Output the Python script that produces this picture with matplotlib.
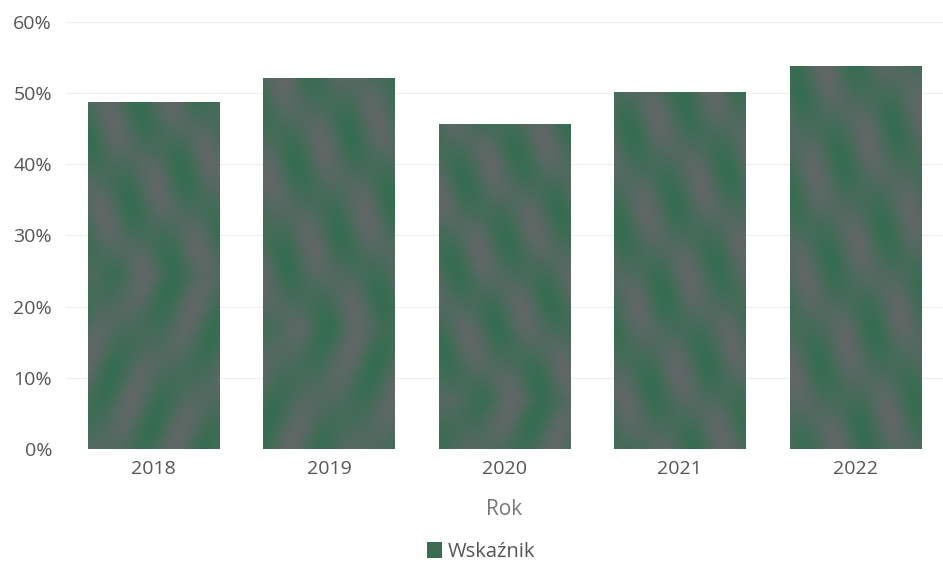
import numpy as np
import matplotlib
matplotlib.use("Agg")
import matplotlib.pyplot as plt
from matplotlib.ticker import FuncFormatter
from matplotlib.patches import Patch

years = ["2018", "2019", "2020", "2021", "2022"]
values = [48.7, 52.1, 45.6, 50.1, 53.8]
series_name = "Wskaźnik"
x_label = "Rok"

plt.rcParams['font.family'] = ['Open Sans', 'DejaVu Sans']

fig = plt.figure(figsize=(9.43, 5.62), dpi=100)
ax = fig.add_axes([0.07, 0.201, 0.93, 0.76])

green = np.array([0x2c, 0x6e, 0x4c]) / 255
gray = np.array([0x6e, 0x66, 0x6e]) / 255

bars = ax.bar(years, values, width=0.75, color="#4a5751", zorder=2)

# soft moiré-like texture clipped to each bar
for i, b in enumerate(bars):
    x0, y0 = b.get_x(), b.get_y()
    w, h = b.get_width(), b.get_height()
    ny, nx = 200, 60
    yy, xx = np.mgrid[0:1:ny*1j, 0:1:nx*1j]
    t = np.sin(2 * np.pi * (1.8 * xx + 1.6 * np.abs(yy * 2.0 - 1.0 + 0.35 * i) + 0.37 * i)) * 0.5 + 0.5
    t2 = np.sin(2 * np.pi * (2.6 * xx - 0.8 * yy + 0.21 * i)) * 0.5 + 0.5
    t = 0.65 * t + 0.35 * t2
    t = 0.2 + 0.65 * t
    img = gray[None, None, :] * (1 - t[..., None]) + green[None, None, :] * t[..., None]
    im = ax.imshow(img, extent=[x0, x0 + w, y0, y0 + h], aspect='auto',
                   origin='lower', zorder=3, interpolation='bicubic')
    im.set_clip_path(b)

ax.set_xlim(-0.5, 4.5)
ax.set_ylim(0, 60)
ax.set_yticks(range(0, 61, 10))
ax.yaxis.set_major_formatter(FuncFormatter(lambda v, p: f"{int(v)}%"))
ax.grid(axis='y', color='#efefef', linewidth=0.8, zorder=0)
ax.set_axisbelow(True)
for s in ax.spines.values():
    s.set_visible(False)
ax.tick_params(axis='both', length=0, labelsize=14, colors='#555555')
ax.tick_params(axis='y', pad=10)
ax.tick_params(axis='x', pad=8)
ax.set_xlabel(x_label, fontsize=15, color='#777777', labelpad=15)

handle = Patch(facecolor="#3d6a52", edgecolor='none')
fig.legend([handle], [series_name], loc='lower center', bbox_to_anchor=(0.51, -0.032),
           frameon=False, fontsize=14.5, handlelength=0.75, handleheight=0.9,
           handletextpad=0.3, labelcolor='#555555')

fig.savefig("out.png", dpi=100)
